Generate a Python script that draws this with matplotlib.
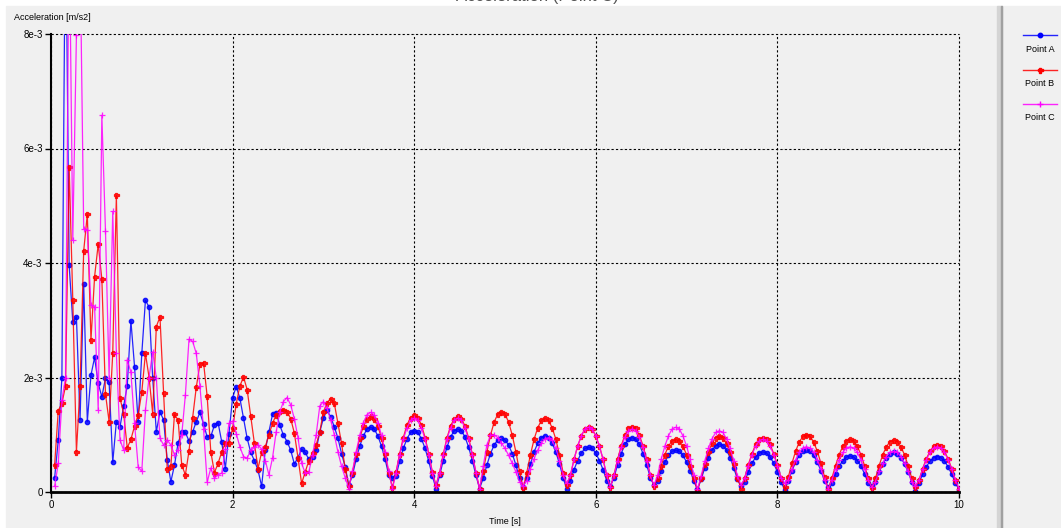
import matplotlib
matplotlib.use("Agg")
import matplotlib.pyplot as plt
from matplotlib.patches import Rectangle
import numpy as np

# sample times (s), one sample every 0.04 s
dt = 0.04
n_samples = 250
time = np.round(np.arange(1, n_samples + 1) * dt, 2)

# acceleration values in 1e-3 m/s2, transient part 0.04 .. 3.24 s
point_a_early = [0.25, 0.90, 2.00, 10.5, 3.96, 2.97, 3.06, 1.26, 3.63, 1.23,
                 2.04, 2.35, 1.90, 1.66, 1.99, 1.92, 0.52, 1.23, 1.14, 1.50,
                 1.86, 2.99, 2.19, 1.22, 2.42, 3.35, 3.23, 1.99, 1.05, 1.40,
                 1.26, 0.56, 0.18, 0.47, 0.86, 1.04, 1.04, 0.89, 1.05, 1.23,
                 1.39, 1.19, 0.96, 0.97, 1.17, 1.21, 0.88, 0.41, 1.02, 1.65,
                 1.84, 1.64, 1.29, 0.94, 0.69, 0.55, 0.38, 0.10, 0.73, 1.05,
                 1.36, 1.38, 1.17, 0.99, 0.88, 0.73, 0.49, 0.60, 0.75, 0.69,
                 0.57, 0.62, 0.73, 1.05, 1.29, 1.43, 1.31, 1.14, 0.94, 0.67,
                 0.44]
point_b_early = [0.47, 1.42, 1.55, 1.85, 5.68, 3.35, 0.70, 1.85, 4.21, 4.85,
                 2.65, 3.76, 4.33, 3.72, 1.71, 1.23, 2.42, 5.18, 1.64, 1.37,
                 0.77, 0.92, 1.15, 1.35, 1.75, 2.42, 2.00, 1.37, 2.89, 3.06,
                 1.73, 0.40, 0.45, 1.36, 1.25, 0.47, 0.30, 0.72, 1.30, 1.83,
                 2.23, 2.26, 1.67, 0.70, 0.34, 0.50, 0.70, 0.86, 0.86, 1.11,
                 1.54, 1.85, 2.01, 1.79, 1.32, 0.85, 0.41, 0.70, 0.79, 1.00,
                 1.20, 1.35, 1.41, 1.44, 1.40, 1.28, 1.03, 0.60, 0.15, 0.35,
                 0.55, 0.68, 0.82, 1.05, 1.40, 1.56, 1.63, 1.55, 1.20, 0.85,
                 0.40]
point_c_early = [0.10, 0.50, 1.60, 2.00, 10.0, 4.40, 7.98, 9.50, 4.60, 4.58,
                 3.27, 3.24, 1.43, 6.58, 4.56, 2.00, 4.90, 2.42, 0.91, 0.73,
                 2.31, 2.09, 1.20, 0.44, 0.36, 1.43, 2.00, 2.45, 1.99, 0.94,
                 0.82, 0.91, 0.82, 0.65, 0.73, 1.00, 1.70, 2.67, 2.63, 2.42,
                 1.85, 1.10, 0.17, 0.42, 0.24, 0.30, 0.33, 0.75, 1.20, 1.24,
                 1.02, 0.79, 0.62, 0.59, 0.73, 0.78, 0.82, 0.75, 0.55, 0.30,
                 0.60, 1.05, 1.40, 1.58, 1.65, 1.52, 1.28, 0.95, 0.50, 0.33,
                 0.35, 0.65, 1.00, 1.50, 1.58, 1.46, 1.26, 1.00, 0.70, 0.45,
                 0.25]

# steady part 3.28 .. 10.0 s, one row per half period
point_a_late = [
    0.12, 0.29, 0.57, 0.80, 0.98, 1.10, 1.13, 1.10, 0.98, 0.80, 0.57, 0.29,
    0.24, 0.28, 0.54, 0.76, 0.93, 1.04, 1.07, 1.04, 0.93, 0.76, 0.54, 0.28,
    0.06, 0.29, 0.55, 0.78, 0.96, 1.07, 1.10, 1.07, 0.96, 0.78, 0.55, 0.29,
    0.06, 0.24, 0.47, 0.67, 0.82, 0.91, 0.94, 0.91, 0.82, 0.67, 0.47, 0.24,
    0.08, 0.25, 0.49, 0.70, 0.85, 0.95, 0.98, 0.95, 0.85, 0.70, 0.49, 0.25,
    0.05, 0.20, 0.39, 0.55, 0.68, 0.76, 0.78, 0.76, 0.68, 0.55, 0.39, 0.20,
    0.10, 0.25, 0.48, 0.67, 0.83, 0.92, 0.95, 0.92, 0.83, 0.67, 0.48, 0.25,
    0.12, 0.19, 0.37, 0.52, 0.64, 0.71, 0.73, 0.71, 0.64, 0.52, 0.37, 0.19,
    0.05, 0.22, 0.42, 0.60, 0.73, 0.81, 0.84, 0.81, 0.73, 0.60, 0.42, 0.22,
    0.10, 0.18, 0.35, 0.50, 0.61, 0.68, 0.70, 0.68, 0.61, 0.50, 0.35, 0.18,
    0.04, 0.19, 0.37, 0.52, 0.64, 0.71, 0.73, 0.71, 0.64, 0.52, 0.37, 0.19,
    0.08, 0.16, 0.32, 0.45, 0.55, 0.61, 0.63, 0.61, 0.55, 0.45, 0.32, 0.16,
    0.10, 0.18, 0.35, 0.49, 0.60, 0.67, 0.69, 0.67, 0.60, 0.49, 0.35, 0.18,
    0.02, 0.16, 0.31, 0.44, 0.54, 0.60, 0.62, 0.60, 0.54, 0.44, 0.31, 0.16,
    0.04]
point_b_late = [
    0.10, 0.34, 0.66, 0.94, 1.15, 1.28, 1.32, 1.28, 1.15, 0.94, 0.66, 0.34,
    0.08, 0.35, 0.67, 0.95, 1.17, 1.30, 1.34, 1.30, 1.17, 0.95, 0.67, 0.35,
    0.12, 0.34, 0.66, 0.94, 1.15, 1.28, 1.32, 1.28, 1.15, 0.94, 0.66, 0.34,
    0.06, 0.36, 0.70, 0.99, 1.22, 1.36, 1.40, 1.36, 1.22, 0.99, 0.70, 0.36,
    0.07, 0.34, 0.65, 0.92, 1.12, 1.25, 1.29, 1.25, 1.12, 0.92, 0.65, 0.34,
    0.12, 0.29, 0.57, 0.80, 0.98, 1.10, 1.13, 1.10, 0.98, 0.80, 0.57, 0.29,
    0.08, 0.30, 0.57, 0.81, 0.99, 1.11, 1.14, 1.11, 0.99, 0.81, 0.57, 0.30,
    0.10, 0.24, 0.46, 0.65, 0.80, 0.89, 0.92, 0.89, 0.80, 0.65, 0.46, 0.24,
    0.02, 0.25, 0.49, 0.70, 0.85, 0.95, 0.98, 0.95, 0.85, 0.70, 0.49, 0.25,
    0.06, 0.25, 0.48, 0.67, 0.83, 0.92, 0.95, 0.92, 0.83, 0.67, 0.48, 0.25,
    0.08, 0.26, 0.50, 0.71, 0.87, 0.97, 1.00, 0.97, 0.87, 0.71, 0.50, 0.26,
    0.05, 0.24, 0.46, 0.65, 0.80, 0.89, 0.92, 0.89, 0.80, 0.65, 0.46, 0.24,
    0.07, 0.24, 0.46, 0.65, 0.79, 0.88, 0.91, 0.88, 0.79, 0.65, 0.46, 0.24,
    0.08, 0.21, 0.41, 0.58, 0.71, 0.80, 0.82, 0.80, 0.71, 0.58, 0.41, 0.21,
    0.05]
point_c_late = [
    0.06, 0.36, 0.70, 0.99, 1.21, 1.35, 1.39, 1.35, 1.21, 0.99, 0.70, 0.36,
    0.05, 0.34, 0.65, 0.92, 1.12, 1.25, 1.29, 1.25, 1.12, 0.92, 0.65, 0.34,
    0.10, 0.34, 0.65, 0.92, 1.12, 1.25, 1.29, 1.25, 1.12, 0.92, 0.65, 0.34,
    0.05, 0.45, 0.82, 0.99, 1.00, 0.95, 0.86, 0.76, 0.64, 0.50, 0.35, 0.18,
    0.10, 0.20, 0.40, 0.58, 0.73, 0.85, 0.93, 0.95, 0.90, 0.76, 0.55, 0.30,
    0.15, 0.29, 0.57, 0.80, 0.98, 1.10, 1.13, 1.10, 0.98, 0.80, 0.57, 0.29,
    0.08, 0.29, 0.55, 0.78, 0.96, 1.07, 1.10, 1.07, 0.96, 0.78, 0.55, 0.29,
    0.12, 0.29, 0.57, 0.80, 0.98, 1.10, 1.13, 1.10, 0.98, 0.80, 0.57, 0.29,
    0.05, 0.28, 0.54, 0.76, 0.93, 1.04, 1.07, 1.04, 0.93, 0.76, 0.54, 0.28,
    0.12, 0.24, 0.46, 0.65, 0.80, 0.89, 0.92, 0.89, 0.80, 0.65, 0.46, 0.24,
    0.15, 0.21, 0.40, 0.56, 0.69, 0.77, 0.79, 0.77, 0.69, 0.56, 0.40, 0.21,
    0.05, 0.21, 0.40, 0.56, 0.69, 0.77, 0.79, 0.77, 0.69, 0.56, 0.40, 0.21,
    0.08, 0.18, 0.36, 0.50, 0.62, 0.69, 0.71, 0.69, 0.62, 0.50, 0.36, 0.18,
    0.10, 0.21, 0.40, 0.56, 0.69, 0.77, 0.79, 0.77, 0.69, 0.56, 0.40, 0.21,
    0.06]

series_names = ["Point A", "Point B", "Point C"]
series_values = [point_a_early + point_a_late,
                 point_b_early + point_b_late,
                 point_c_early + point_c_late]
series_colors = ["#0000ff", "#ff0000", "#ff00ff"]
series_markers = ["o", "P", "+"]
marker_sizes = [3.2, 3.6, 4.2]

x_ticks = [0, 2, 4, 6, 8, 10]
y_ticks = [0, 2e-3, 4e-3, 6e-3, 8e-3]
y_tick_labels = ["0", "2e-3", "4e-3", "6e-3", "8e-3"]

W, H = 1061, 528
fig = plt.figure(figsize=(W / 100, H / 100), dpi=100, facecolor="white")
plt.rcParams["font.family"] = ["Liberation Sans", "DejaVu Sans"]

# title, only its lower edge shows above the grey panel
fig.text(537 / W, 1 - 1.5 / H, "Acceleration (Point C)", ha="center", va="baseline",
         fontsize=12, color="#555555", zorder=-20)

# grey panel and the splitter bar
fig.patches.append(Rectangle((6 / W, 0), 1, (H - 6) / H, transform=fig.transFigure,
                             color="#f0f0f0", zorder=-10))
fig.patches.append(Rectangle((997 / W, 0), 5 / W, (H - 6) / H, transform=fig.transFigure,
                             color="#d4d4d4", zorder=-9))
fig.patches.append(Rectangle((1001 / W, 0), 1 / W, (H - 6) / H, transform=fig.transFigure,
                             color="#a0a0a0", zorder=-9))

ax = fig.add_axes([51 / W, 36 / H, 908 / W, 458 / H])
ax.set_facecolor("none")
for name, vals, col, mk, ms in zip(series_names, series_values, series_colors,
                                   series_markers, marker_sizes):
    ax.plot(time, np.array(vals) * 1e-3, color=col, lw=0.9, alpha=0.85,
            marker=mk, ms=ms, mew=0.9, mfc=col, mec=col, label=name)

ax.set_xlim(0, 10)
ax.set_ylim(0, 8e-3)
ax.set_xticks(x_ticks)
ax.set_xticklabels([str(v) for v in x_ticks])
ax.set_yticks(y_ticks)
ax.set_yticklabels(y_tick_labels)
ax.tick_params(labelsize=7, length=4, width=1, color="black", pad=2)
ax.grid(True, color="black", linestyle=(0, (2, 2)), linewidth=0.8)
for gl in ax.get_xgridlines() + ax.get_ygridlines():
    gl.set_clip_on(False)
for side in ["top", "right"]:
    ax.spines[side].set_visible(False)
ax.spines["left"].set_linewidth(1.5)
ax.spines["bottom"].set_linewidth(2)

fig.text(14 / W, 1 - 17 / H, "Acceleration [m/s2]", fontsize=6.5, va="center", ha="left")
fig.text(505 / W, 1 - 521 / H, "Time [s]", fontsize=6.5, va="center", ha="center")

# legend panel on the right
lax = fig.add_axes([1003 / W, 0, 58 / W, 1])
lax.set_xlim(1003, 1061)
lax.set_ylim(H, 0)
lax.axis("off")
for i, (name, col, mk, ms) in enumerate(zip(series_names, series_colors,
                                             series_markers, marker_sizes)):
    y = 35 + 34.5 * i
    lax.plot([1023, 1057], [y, y], color=col, lw=1.0, alpha=0.85)
    lax.plot([1040], [y], color=col, marker=mk, ms=ms, mew=1.0)
    lax.text(1040, y + 14, name, fontsize=6.5, ha="center", va="center")

fig.savefig("out.png", dpi=100, facecolor=fig.get_facecolor())
